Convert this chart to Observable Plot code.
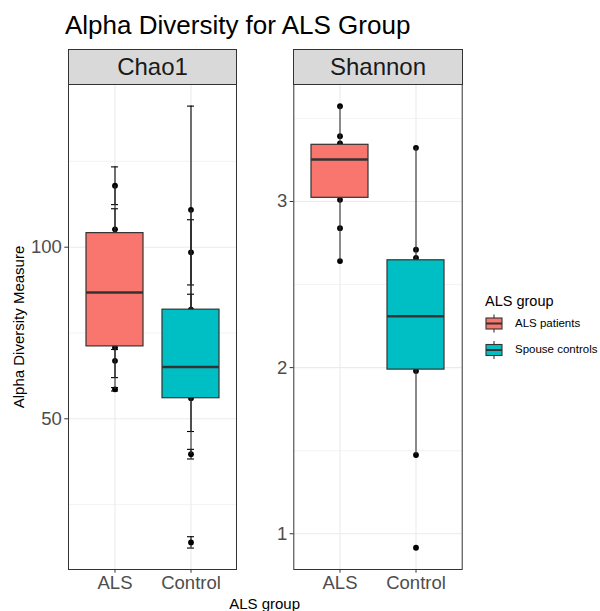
<!DOCTYPE html>
<html><head><meta charset="utf-8">
<script src="https://cdn.jsdelivr.net/npm/d3@7"></script>
<script src="https://cdn.jsdelivr.net/npm/@observablehq/plot@0.6"></script>
<style>
body{margin:0;background:#fff;font-family:"Liberation Sans",Arial,sans-serif;}
#root{position:relative;width:600px;height:611px;overflow:hidden;background:#fff;}
.abs{position:absolute;white-space:nowrap;line-height:1;}
.strip{position:absolute;background:#D9D9D9;border:1px solid #333;box-sizing:border-box;font-size:24px;color:#1A1A1A;display:flex;align-items:center;justify-content:center;}
</style></head><body><div id="root"></div>
<script>
// ---- data ----
const groups = ["ALS", "Control"];
const groupLabels = ["ALS patients", "Spouse controls"];
const colors = ["#F8766D", "#00BFC4"];
const titleText = "Alpha Diversity for ALS Group";
const yTitle = "Alpha Diversity Measure";
const xTitle = "ALS group";
const legendTitle = "ALS group";
const facetNames = ["Chao1", "Shannon"];

// Chao1 box statistics (per group)
const chaoQ1 = [71.1, 56.0];
const chaoMed = [86.8, 65.1];
const chaoQ3 = [104.1, 81.8];
const chaoLo = [58.6, 39.7];
const chaoHi = [117.9, 110.9];
// Chao1 per-sample values and standard errors
const chaoAlsValues = [117.9, 105.2, 96.0, 89.0, 82.0, 76.0, 70.8, 66.9, 58.6];
const chaoAlsSe = [5.5, 6.0, 4.0, 5.0, 3.0, 3.0, 0.6, 4.9, 0.5];
const chaoCtlValues = [110.9, 98.5, 81.8, 73.0, 66.0, 60.0, 56.0, 39.7, 14.0];
const chaoCtlSe = [30.2, 9.5, 4.5, 3.0, 3.0, 2.0, 9.7, 1.4, 1.65];
const chaoTicks = [50, 100];
const chaoMinor = [25, 75, 125];
const chaoDomain = [6.1, 147.4];

// Shannon box statistics
const shanQ1 = [3.022, 1.988];
const shanMed = [3.253, 2.309];
const shanQ3 = [3.341, 2.646];
const shanLo = [2.641, 1.474];
const shanHi = [3.573, 3.323];
const shanAlsValues = [3.573, 3.393, 3.350, 3.30, 3.26, 3.20, 3.10, 3.010, 2.839, 2.641];
const shanCtlValues = [3.323, 2.710, 2.660, 2.50, 2.30, 2.10, 1.980, 1.474, 0.916];
const shanTicks = [1, 2, 3];
const shanMinor = [1.5, 2.5, 3.5];
const shanDomain = [0.785, 3.704];

// ---- build tables ----
function statsTable(q1, med, q3, lo, hi) {
  return groups.map((g, i) => ({group: g, q1: q1[i], med: med[i], q3: q3[i], lo: lo[i], hi: hi[i]}));
}
function pointTable(alsV, ctlV, alsSe, ctlSe) {
  const out = [];
  alsV.forEach((v, i) => out.push({group: "ALS", value: v, se: alsSe ? alsSe[i] : 0}));
  ctlV.forEach((v, i) => out.push({group: "Control", value: v, se: ctlSe ? ctlSe[i] : 0}));
  return out;
}

const root = document.getElementById("root");

function panel({stats, points, ticks, minor, domain, left, width, marginLeft, marginRight, errorbars}) {
  const grid = "#EBEBEB";
  const marks = [
    Plot.ruleY(minor, {y: d => d, stroke: grid, strokeWidth: 0.6}),
    Plot.ruleY(ticks, {y: d => d, stroke: grid, strokeWidth: 1.1}),
    Plot.ruleX(groups, {x: d => d, stroke: grid, strokeWidth: 1.1})
  ];
  if (errorbars) {
    marks.push(
      Plot.ruleX(points, {x: "group", y1: d => d.value - d.se, y2: d => d.value + d.se, stroke: "#000", strokeWidth: 1.1}),
      Plot.tickY(points, {x: "group", y: d => d.value + d.se, stroke: "#000", strokeWidth: 1.1, insetLeft: 25, insetRight: 25}),
      Plot.tickY(points, {x: "group", y: d => d.value - d.se, stroke: "#000", strokeWidth: 1.1, insetLeft: 25, insetRight: 25})
    );
  }
  marks.push(
    Plot.dot(points, {x: "group", y: "value", r: 2.9, fill: "#000", stroke: null}),
    Plot.ruleX(stats, {x: "group", y1: "lo", y2: "q1", stroke: "#333", strokeWidth: 1.1}),
    Plot.ruleX(stats, {x: "group", y1: "q3", y2: "hi", stroke: "#333", strokeWidth: 1.1}),
    Plot.barY(stats, {x: "group", y1: "q1", y2: "q3", fill: "group", stroke: "#333", strokeWidth: 1.2}),
    Plot.tickY(stats, {x: "group", y: "med", stroke: "#333", strokeWidth: 2.4}),
    Plot.frame({stroke: "#333", strokeWidth: 1}),
    Plot.axisY(ticks, {tickSize: 3.7, tickPadding: 2.9, fontSize: 18.5, stroke: "#333", fill: "#4D4D4D", label: null, tickFormat: d => String(d)}),
    Plot.axisX({tickSize: 3.7, tickPadding: 2.9, fontSize: 18.5, stroke: "#333", fill: "#4D4D4D", label: null})
  );
  const svg = Plot.plot({
    width, height: 524,
    marginLeft, marginRight, marginTop: 4, marginBottom: 35,
    style: {fontFamily: "Liberation Sans, Arial, sans-serif", background: "transparent"},
    x: {type: "band", domain: groups, paddingInner: 0.25, paddingOuter: 0.225, label: null},
    y: {domain, label: null},
    color: {domain: groups, range: colors},
    marks
  });
  svg.style.position = "absolute";
  svg.style.left = left + "px";
  svg.style.top = "80px";
  root.appendChild(svg);
}

panel({
  stats: statsTable(chaoQ1, chaoMed, chaoQ3, chaoLo, chaoHi),
  points: pointTable(chaoAlsValues, chaoCtlValues, chaoAlsSe, chaoCtlSe),
  ticks: chaoTicks, minor: chaoMinor, domain: chaoDomain,
  left: 0, width: 240, marginLeft: 68, marginRight: 4, errorbars: true
});
panel({
  stats: statsTable(shanQ1, shanMed, shanQ3, shanLo, shanHi),
  points: pointTable(shanAlsValues, shanCtlValues),
  ticks: shanTicks, minor: shanMinor, domain: shanDomain,
  left: 240, width: 224, marginLeft: 53.3, marginRight: 2.3, errorbars: false
});

// strips
[[68, 236], [293.3, 461.7]].forEach(([x0, x1], i) => {
  const s = document.createElement("div");
  s.className = "strip";
  s.style.left = x0 + "px"; s.style.top = "49px";
  s.style.width = (x1 - x0 + 1) + "px"; s.style.height = "36px";
  s.textContent = facetNames[i];
  root.appendChild(s);
});

// title
const t = document.createElement("div");
t.className = "abs"; t.style.left = "65px"; t.style.top = "12px"; t.style.fontSize = "26px"; t.style.color = "#000";
t.textContent = titleText; root.appendChild(t);

// y title
const yt = document.createElement("div");
yt.className = "abs"; yt.style.left = "18px"; yt.style.top = "327px"; yt.style.fontSize = "15px";
yt.style.transform = "translate(-50%,-50%) rotate(-90deg)";
yt.textContent = yTitle; root.appendChild(yt);

// x title
const xt = document.createElement("div");
xt.className = "abs"; xt.style.left = "264.6px"; xt.style.top = "603px"; xt.style.fontSize = "15px";
xt.style.transform = "translate(-50%,-50%)";
xt.textContent = xTitle; root.appendChild(xt);

// legend
const lt = document.createElement("div");
lt.className = "abs"; lt.style.left = "485px"; lt.style.top = "300.7px"; lt.style.fontSize = "14.5px";
lt.style.transform = "translate(0,-50%)";
lt.textContent = legendTitle; root.appendChild(lt);

const keyCenters = [323.5, 350];
const lsvg = d3.select(root).append("svg")
  .style("position", "absolute").style("left", "480px").style("top", "300px")
  .attr("width", 30).attr("height", 70);
groups.forEach((g, i) => {
  const cy = keyCenters[i] - 300, cx = 14;
  lsvg.append("line").attr("x1", cx).attr("x2", cx).attr("y1", cy - 9).attr("y2", cy + 9).attr("stroke", "#333").attr("stroke-width", 1.1);
  lsvg.append("rect").attr("x", 6).attr("y", cy - 5.5).attr("width", 16).attr("height", 11)
    .attr("fill", colors[i]).attr("stroke", "#333").attr("stroke-width", 1.1);
  lsvg.append("line").attr("x1", 6).attr("x2", 22).attr("y1", cy).attr("y2", cy).attr("stroke", "#333").attr("stroke-width", 2);
  const lab = document.createElement("div");
  lab.className = "abs"; lab.style.left = "515px"; lab.style.top = keyCenters[i] + "px"; lab.style.fontSize = "11.5px";
  lab.style.transform = "translate(0,-50%)";
  lab.textContent = groupLabels[i]; root.appendChild(lab);
});
</script>
</body></html>
